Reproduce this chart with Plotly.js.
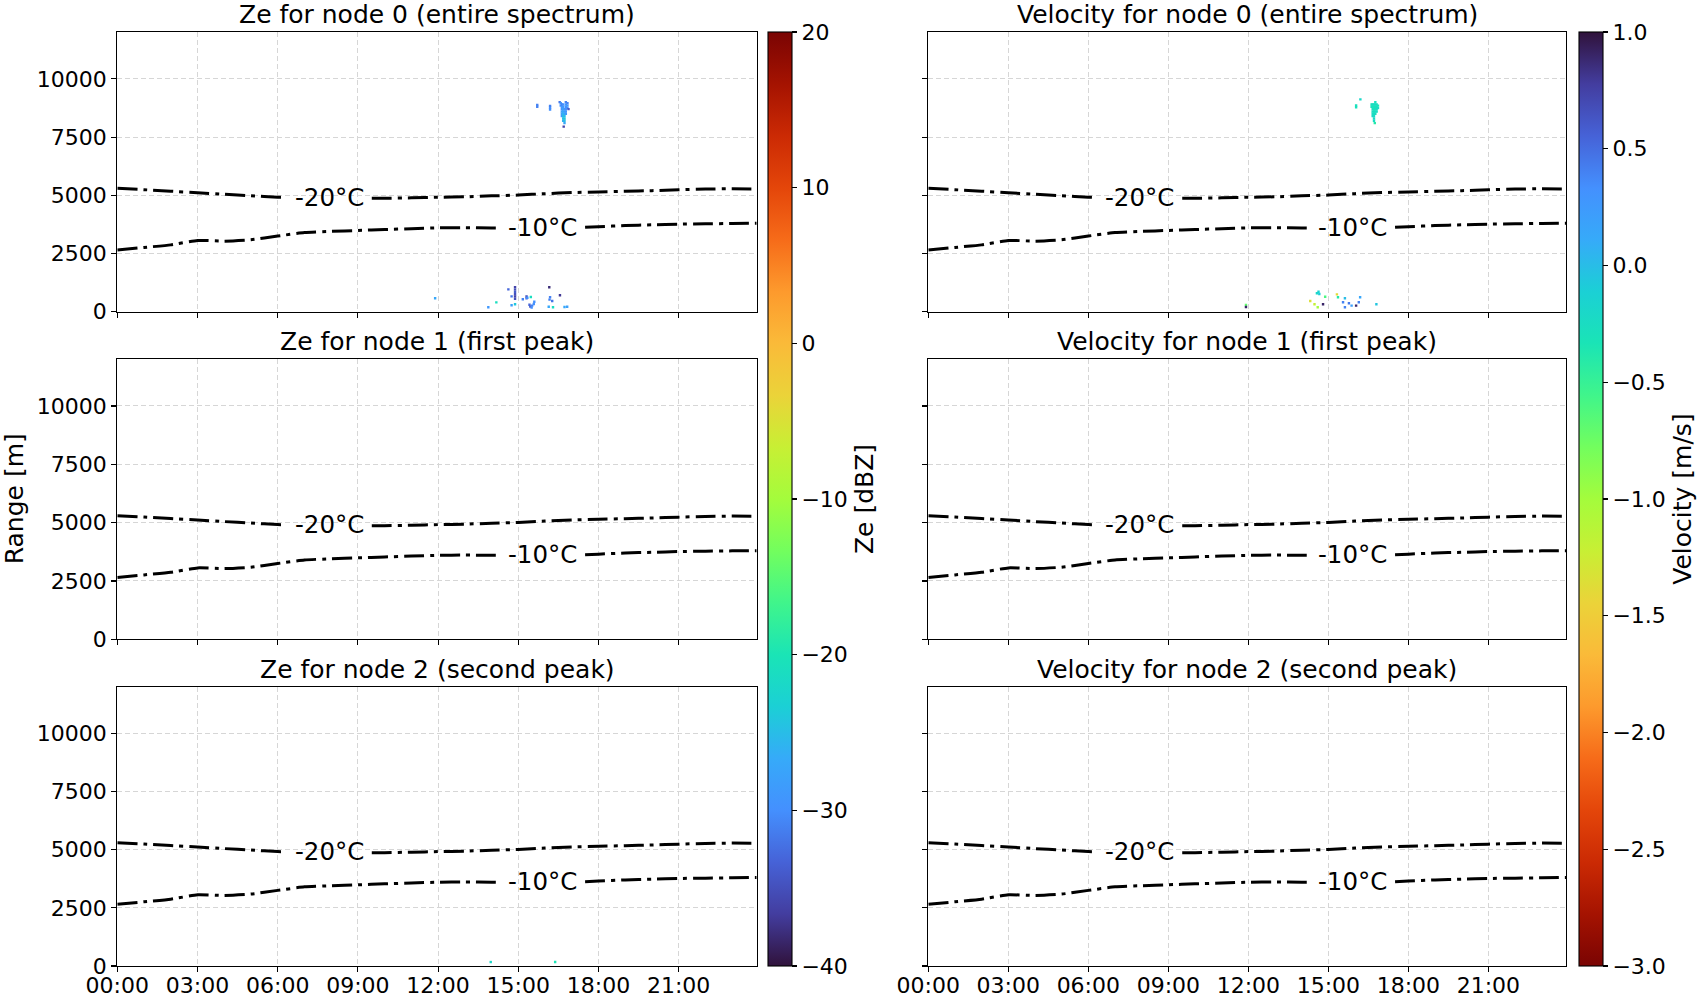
<!DOCTYPE html>
<html><head><meta charset="utf-8">
<script src="https://cdn.plot.ly/plotly-3.0.1.min.js"></script>
<style>html,body{margin:0;padding:0;background:#fff}#chart{width:1700px;height:1000px}</style>
</head><body><div id="chart"></div>
<script>
// ---------------- DATA ----------------
const timeTickVals = [0, 3, 6, 9, 12, 15, 18, 21];
const timeTickText = ['00:00', '03:00', '06:00', '09:00', '12:00', '15:00', '18:00', '21:00'];
const rangeTickVals = [0, 2500, 5000, 7500, 10000];
const rangeTickText = ['0', '2500', '5000', '7500', '10000'];
const zeTickVals = [20, 10, 0, -10, -20, -30, -40];
const zeTickText = ['20', '10', '0', '\u221210', '\u221220', '\u221230', '\u221240'];
const velTickVals = [1, 0.5, 0, -0.5, -1, -1.5, -2, -2.5, -3];
const velTickText = ['1.0', '0.5', '0.0', '\u22120.5', '\u22121.0', '\u22121.5', '\u22122.0', '\u22122.5', '\u22123.0'];

const zeTitles = ['Ze for node 0 (entire spectrum)', 'Ze for node 1 (first peak)', 'Ze for node 2 (second peak)'];
const velTitles = ['Velocity for node 0 (entire spectrum)', 'Velocity for node 1 (first peak)', 'Velocity for node 2 (second peak)'];

// isotherm heights [m] vs time [h]
const isoHours = [0, 1, 2, 3, 4, 5, 6, 7, 8, 9, 10, 11, 12, 13, 14, 15, 16, 17, 18, 19, 20, 21, 22, 23, 23.92];
const iso20 = [5300, 5240, 5175, 5110, 5045, 4980, 4915, 4890, 4875, 4870, 4870, 4890, 4915, 4935, 4975, 5010, 5070, 5115, 5145, 5170, 5200, 5235, 5265, 5280, 5270];
const iso10 = [2650, 2760, 2870, 3060, 3030, 3090, 3250, 3400, 3450, 3490, 3530, 3565, 3600, 3610, 3600, 3595, 3590, 3600, 3650, 3700, 3730, 3760, 3775, 3790, 3800];
const isoLabels = ['-20°C', '-10°C'];
const isoLabelTime = [7.92, 15.89];
const isoGapStart = [6.34, 14.31];
const isoGapEnd = [9.52, 17.5];

// node 0 reflectivity [dBZ]
const ze0Time = [15.71, 15.71, 16.19, 16.19, 16.19, 16.55, 16.59, 16.59,
  16.63, 16.63, 16.63, 16.63, 16.63, 16.63,
  16.68, 16.68, 16.68, 16.68, 16.68, 16.68, 16.68, 16.68,
  16.73, 16.73, 16.73, 16.73, 16.73, 16.73, 16.73,
  16.78, 16.78, 16.78, 16.78, 16.78, 16.78,
  16.84, 16.84, 16.84, 16.70, 16.88,
  11.89, 13.88, 14.18, 14.63, 14.75, 14.75, 14.88, 14.88, 14.88, 14.88, 14.88, 14.88, 14.88,
  15.17, 15.31, 15.31, 15.34, 15.47, 15.42, 15.45, 15.52, 15.58, 15.60, 15.50,
  16.16, 16.19, 16.17, 16.27, 16.14, 16.30, 16.56, 16.73, 16.83];
const ze0Range = [8800, 8880, 8680, 8760, 8840, 9000, 8850, 8950,
  8400, 8500, 8600, 8700, 8800, 8900,
  8200, 8300, 8400, 8500, 8600, 8700, 8800, 8900,
  8100, 8200, 8300, 8400, 8500, 8600, 8700,
  8500, 8600, 8700, 8800, 8900, 9000,
  8750, 8850, 8950, 7950, 8700,
  575, 190, 400, 960, 660, 275, 1050, 950, 850, 750, 650, 550, 320,
  533, 660, 580, 600, 630, 300, 220, 260, 330, 430, 180,
  1050, 620, 520, 460, 215, 190, 704, 200, 210];
const ze0Value = [-31, -31, -30, -30, -31, -32, -30, -29,
  -29, -28, -28, -30, -29, -31,
  -26, -25, -25, -26, -27, -28, -29, -30,
  -27, -25, -24, -25, -26, -28, -29,
  -29, -29, -30, -30, -29, -31,
  -30, -29, -31, -36, -34,
  -27, -29, -21, -33, -32, -28, -36, -35, -34, -35, -36, -35, -24,
  -31, -35, -33, -30, -21, -33, -34, -31, -30, -30, -30,
  -38, -31, -31, -32, -27, -21, -37, -27, -28];

// node 0 mean Doppler velocity [m/s]
const vel0Time = [16.04, 16.04, 16.20,
  16.62, 16.62, 16.66, 16.66, 16.66, 16.66, 16.66, 16.66,
  16.71, 16.71, 16.71, 16.71, 16.71, 16.71, 16.71, 16.71,
  16.76, 16.76, 16.76, 16.76, 16.76, 16.76,
  16.81, 16.81, 16.81, 16.81, 16.86, 16.86, 16.74,
  11.91, 11.91, 14.32, 14.48, 14.57, 14.63, 14.66, 14.60, 14.80, 14.88,
  15.32, 15.36, 15.55, 15.62, 15.62, 15.77, 15.87, 16.04, 16.14, 16.19, 16.80];
const vel0Range = [8780, 8860, 9120,
  8800, 8900, 8400, 8500, 8600, 8700, 8800, 8900,
  8200, 8300, 8400, 8500, 8600, 8700, 8800, 8900,
  8500, 8600, 8700, 8800, 8900, 9000,
  8600, 8700, 8800, 8900, 8750, 8850, 8100,
  290, 200, 460, 318, 790, 860, 760, 190, 318, 645,
  745, 620, 403, 575, 190, 360, 260, 260, 403, 620, 320];
const vel0Value = [-0.30, -0.28, -0.20,
  -0.30, -0.32, -0.25, -0.22, -0.25, -0.28, -0.30, -0.26,
  -0.24, -0.20, -0.22, -0.26, -0.28, -0.25, -0.30, -0.27,
  -0.26, -0.24, -0.28, -0.30, -0.25, -0.27,
  -0.25, -0.28, -0.30, -0.26, -0.22, -0.32, -0.40,
  -0.70, 0.90, -1.35, -1.20, -0.20, -0.15, -0.10, -1.00, 0.90, -0.60,
  -1.40, -0.40, 0.40, 0.00, 0.40, 0.45, 0.20, 0.90, 0.40, 0.15, -0.05];

// node 1 (first peak) – empty
const ze1Time = [], ze1Range = [], ze1Value = [];
const vel1Time = [], vel1Range = [], vel1Value = [];
// node 2 (second peak) – almost empty
const ze2Time = [13.97, 16.38], ze2Range = [170, 170], ze2Value = [-22, -20];
const vel2Time = [], vel2Range = [], vel2Value = [];

// ---------------- STYLE / LAYOUT ----------------
const W = 1700, H = 1000;
const FONT = 'DejaVu Sans, Verdana, sans-serif';
const TICK_SIZE = 22, LABEL_SIZE = 25;
const colPx = [[117.3, 756.7], [928.3, 1566.3]];
const rowPx = [[32.3, 311.7], [359.3, 639.3], [686.7, 966]];
const xRange = [0, 23.92];
const yRange = [0, 12000];

const turbo = [
  [0.0, '#30123b'], [0.0556, '#433d9f'], [0.111, '#4662d7'], [0.167, '#4490fe'],
  [0.222, '#36aaf9'], [0.278, '#1bd0d5'], [0.333, '#1ae4b6'], [0.389, '#40f58b'],
  [0.444, '#72fe5e'], [0.5, '#a4fc3c'], [0.556, '#c8ef34'], [0.611, '#ebd339'],
  [0.667, '#faba39'], [0.722, '#fd9a2d'], [0.778, '#f66b19'], [0.833, '#e4460a'],
  [0.889, '#cb2a04'], [0.944, '#a51301'], [1.0, '#7a0403']];
const turboR = turbo.map(s => [1 - s[0], s[1]]).reverse();

function interp(h, xs, ys) {
  for (let i = 0; i < xs.length - 1; i++) {
    if (h >= xs[i] && h <= xs[i + 1]) {
      const t = (h - xs[i]) / (xs[i + 1] - xs[i]);
      return ys[i] + t * (ys[i + 1] - ys[i]);
    }
  }
  return ys[ys.length - 1];
}
function brokenLine(ys, g0, g1) {
  const x = [], y = [];
  for (let i = 0; i < isoHours.length; i++) if (isoHours[i] < g0) { x.push(isoHours[i]); y.push(ys[i]); }
  x.push(g0); y.push(interp(g0, isoHours, ys));
  x.push((g0 + g1) / 2); y.push(null);
  x.push(g1); y.push(interp(g1, isoHours, ys));
  for (let i = 0; i < isoHours.length; i++) if (isoHours[i] > g1) { x.push(isoHours[i]); y.push(ys[i]); }
  return {x, y};
}

const zeData = [[ze0Time, ze0Range, ze0Value], [ze1Time, ze1Range, ze1Value], [ze2Time, ze2Range, ze2Value]];
const velData = [[vel0Time, vel0Range, vel0Value], [vel1Time, vel1Range, vel1Value], [vel2Time, vel2Range, vel2Value]];
const isoSeries = [iso20, iso10];

function cbar(xPx, thick, vals, text, title) {
  return {
    x: xPx / W, xanchor: 'left', xref: 'paper', xpad: 0,
    y: 1 - 966 / H, yanchor: 'bottom', ypad: 0,
    len: (966 - 32.3) / H, lenmode: 'fraction',
    thickness: thick, thicknessmode: 'pixels',
    outlinewidth: 1.1, outlinecolor: '#000',
    ticks: 'outside', ticklen: 5, tickwidth: 1.1, tickcolor: '#000',
    tickmode: 'array', tickvals: vals, ticktext: text,
    tickfont: {family: FONT, size: TICK_SIZE, color: '#000'},
    title: {text: title, side: 'right', font: {family: FONT, size: LABEL_SIZE, color: '#000'}}
  };
}

const traces = [];
const layout = {
  width: W, height: H, margin: {l: 0, r: 0, t: 0, b: 0},
  paper_bgcolor: '#ffffff', plot_bgcolor: '#ffffff',
  font: {family: FONT, size: TICK_SIZE, color: '#000'},
  showlegend: false,
  annotations: [],
  coloraxis: {cmin: -40, cmax: 20, colorscale: turbo, colorbar: cbar(768.3, 24, zeTickVals, zeTickText, 'Ze [dBZ]')},
  coloraxis2: {cmin: -3, cmax: 1, colorscale: turboR, colorbar: cbar(1579.3, 23.5, velTickVals, velTickText, 'Velocity [m/s]')}
};

for (let r = 0; r < 3; r++) {
  for (let c = 0; c < 2; c++) {
    const i = r * 2 + c + 1;
    const xa = 'x' + (i === 1 ? '' : i), ya = 'y' + (i === 1 ? '' : i);
    const xKey = 'xaxis' + (i === 1 ? '' : i), yKey = 'yaxis' + (i === 1 ? '' : i);
    const common = {
      showline: true, mirror: true, linecolor: '#000', linewidth: 1.1,
      ticks: 'outside', ticklen: 5, tickwidth: 1.1, tickcolor: '#000',
      showgrid: true, gridcolor: '#d6d6d6', gridwidth: 1, griddash: '5px,3px',
      zeroline: false, automargin: false, fixedrange: true,
      tickfont: {family: FONT, size: TICK_SIZE, color: '#000'}, tickmode: 'array'
    };
    layout[xKey] = Object.assign({}, common, {
      domain: [colPx[c][0] / W, colPx[c][1] / W], anchor: ya, range: xRange,
      tickvals: timeTickVals, ticktext: timeTickText, showticklabels: r === 2,
      ticklabelstandoff: -6
    });
    layout[yKey] = Object.assign({}, common, {
      domain: [1 - rowPx[r][1] / H, 1 - rowPx[r][0] / H], anchor: xa, range: yRange,
      tickvals: rangeTickVals, ticktext: rangeTickText, showticklabels: c === 0
    });

    // radar points
    const d = c === 0 ? zeData[r] : velData[r];
    traces.push({
      type: 'scatter', mode: 'markers', xaxis: xa, yaxis: ya,
      x: d[0], y: d[1],
      marker: {symbol: 'square', size: 2.4, line: {width: 0}, color: d[2],
        coloraxis: c === 0 ? 'coloraxis' : 'coloraxis2'},
      hoverinfo: 'skip'
    });

    // isotherms
    for (let k = 0; k < 2; k++) {
      const seg = brokenLine(isoSeries[k], isoGapStart[k], isoGapEnd[k]);
      traces.push({
        type: 'scatter', mode: 'lines', xaxis: xa, yaxis: ya,
        x: seg.x, y: seg.y, connectgaps: false,
        line: {color: '#000', width: 3, dash: '20px,6px,4px,6px', shape: 'spline', smoothing: 0.5},
        hoverinfo: 'skip'
      });
      layout.annotations.push({
        xref: xa, yref: ya, x: isoLabelTime[k], y: interp(isoLabelTime[k], isoHours, isoSeries[k]),
        text: isoLabels[k], showarrow: false, xanchor: 'center', yanchor: 'middle', yshift: 1,
        font: {family: FONT, size: 24.5, color: '#000'}
      });
    }

    // subplot title
    layout.annotations.push({
      xref: 'paper', yref: 'paper',
      x: (colPx[c][0] + colPx[c][1]) / 2 / W, y: 1 - rowPx[r][0] / H,
      xanchor: 'center', yanchor: 'bottom', yshift: 1, showarrow: false,
      text: c === 0 ? zeTitles[r] : velTitles[r],
      font: {family: FONT, size: LABEL_SIZE, color: '#000'}
    });
  }
}

layout.annotations.push({
  xref: 'paper', yref: 'paper', x: 14 / W, y: 1 - (rowPx[1][0] + rowPx[1][1]) / 2 / H,
  xanchor: 'center', yanchor: 'middle', textangle: -90, showarrow: false,
  text: 'Range [m]', font: {family: FONT, size: LABEL_SIZE, color: '#000'}
});

Plotly.newPlot('chart', traces, layout, {staticPlot: true, displayModeBar: false});
</script>
</body></html>
